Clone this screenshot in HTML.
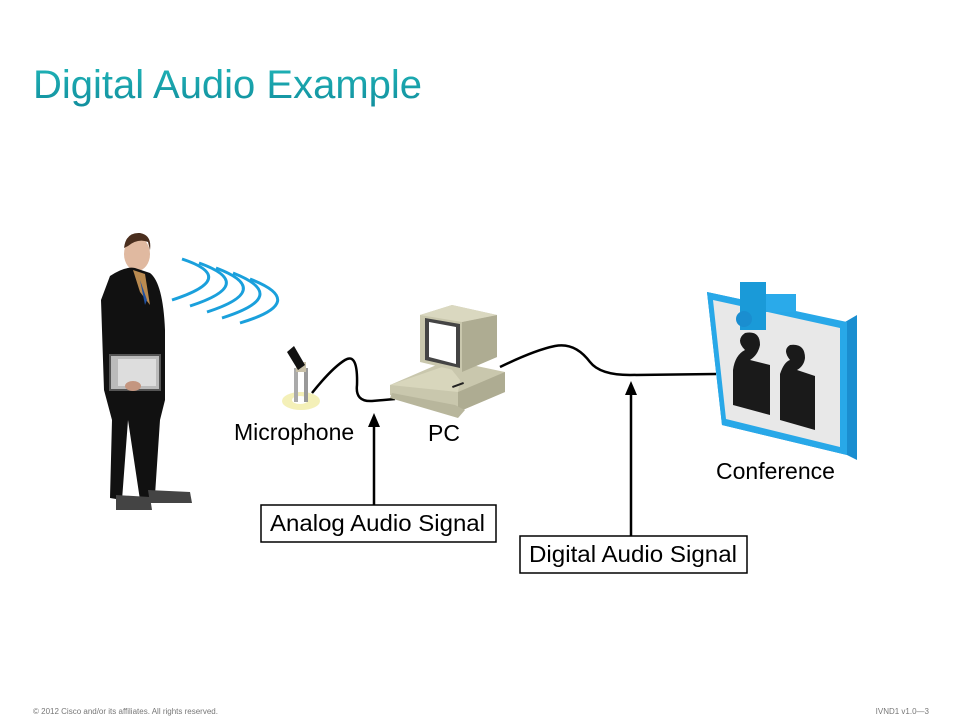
<!DOCTYPE html>
<html><head><style>
body{margin:0;width:960px;height:720px;background:#fff;overflow:hidden;font-family:"Liberation Sans",sans-serif}
</style></head><body>
<svg width="960" height="720" viewBox="0 0 960 720" xmlns="http://www.w3.org/2000/svg" font-family="Liberation Sans, sans-serif">
<defs><linearGradient id="tg" x1="0" y1="0" x2="0" y2="1"><stop offset="0" stop-color="#20b5b8"/><stop offset="1" stop-color="#128f9e"/></linearGradient></defs>
<text x="33" y="98" font-size="40" fill="url(#tg)" textLength="389" lengthAdjust="spacingAndGlyphs">Digital Audio Example</text>
<!-- person -->
<ellipse cx="137" cy="254" rx="13" ry="17" fill="#e0b9a0"/>
<path d="M124 248 Q126 232 140 233 Q152 235 150 250 L148 242 Q138 238 128 246 Z" fill="#4a2e1e"/>
<path d="M110 276 Q125 266 135 268 L150 273 Q163 283 165 330 L165 400 L160 420 L155 495 L170 498 L140 500 L128 420 L122 500 L110 498 L112 420 L104 390 L101 300 Z" fill="#111"/>
<path d="M133 270 L145 274 L150 305 L140 292 Z" fill="#b98a50"/>
<path d="M140 280 L147 300 L145 305 Z" fill="#2050a0"/>
<rect x="110" y="355" width="50" height="35" fill="#bbb" stroke="#555" stroke-width="2"/>
<rect x="118" y="359" width="38" height="27" fill="#ddd"/>
<ellipse cx="133" cy="386" rx="8" ry="5" fill="#c49680"/>
<path d="M116 495 L150 497 L152 510 L116 510 Z" fill="#444"/>
<path d="M148 490 L190 492 L192 503 L150 503 Z" fill="#444"/>
<!-- waves -->
<g fill="none" stroke="#1aa0dc" stroke-width="3">
<path d="M182 259 Q240 278 172 300"/>
<path d="M199 263 Q258 284 190 306"/>
<path d="M216 268 Q275 290 207 312"/>
<path d="M233 273 Q292 296 222 318"/>
<path d="M250 279 Q310 302 240 323"/>
</g>
<!-- mic -->
<ellipse cx="301" cy="401" rx="19" ry="9" fill="#f4f0b8"/>
<ellipse cx="300" cy="400" rx="8" ry="4" fill="#fff"/>
<rect x="294" y="368" width="4" height="34" fill="#aaa"/>
<rect x="304" y="368" width="4" height="34" fill="#999"/>
<rect x="296" y="362" width="10" height="10" fill="#c8c0a8"/>
<path d="M287 352 L294 346 L305 365 L298 370 Z" fill="#111"/>
<path d="M312 393 Q332 368 345 360 Q358 352 357 385 Q355 402 372 401 L395 399" fill="none" stroke="#000" stroke-width="2.5"/>
<!-- PC -->
<path d="M390 385 L448 360 L505 372 L505 392 L458 412 L390 395 Z" fill="#c9c7ad"/>
<path d="M458 392 L505 372 L505 392 L458 412 Z" fill="#aeac92"/>
<path d="M390 385 L448 365 L460 380 L458 392 Z" fill="#d8d6bc"/>
<path d="M392 393 L455 405 L465 410 L458 418 L390 398 Z" fill="#b8b69c"/>
<rect x="452" y="384" width="12" height="2" fill="#222" transform="rotate(-20 458 385)"/>
<path d="M420 315 L452 305 L497 315 L497 357 L462 372 L420 362 Z" fill="#c9c7ad"/>
<path d="M462 322 L497 315 L497 357 L462 372 Z" fill="#aeac92"/>
<path d="M420 315 L452 305 L497 315 L462 322 Z" fill="#dad8c0"/>
<path d="M425 318 L460 324 L460 368 L425 360 Z" fill="#444"/>
<path d="M429 322 L456 327 L456 364 L429 357 Z" fill="#fff"/>
<path d="M500 367 Q535 350 555 346 Q575 342 590 362 Q600 375 630 375 L716 374" fill="none" stroke="#000" stroke-width="2.5"/>
<!-- conference -->
<path d="M707 292 L845 322 L857 315 L857 460 L847 455 L722 425 Z" fill="#1a8ed0"/>
<path d="M707 292 L847 322 L847 455 L722 425 Z" fill="#28a8e8"/>
<path d="M713 300 L840 328 L840 447 L726 419 Z" fill="#e8e8e8"/>
<path d="M733 370 Q735 355 745 350 Q735 340 745 333 Q760 330 760 345 Q758 355 750 360 L770 365 L770 415 L733 405 Z" fill="#1a1a1a"/>
<path d="M780 374 Q784 362 790 360 Q782 350 790 345 Q805 343 805 358 Q804 366 797 370 L815 376 L815 430 L780 420 Z" fill="#1a1a1a"/>
<rect x="740" y="282" width="26" height="48" fill="#1a9ad8"/>
<rect x="766" y="294" width="30" height="18" fill="#2aaaea"/>
<circle cx="744" cy="319" r="8" fill="#1a8ed0"/>
<!-- labels -->
<text x="234" y="440" font-size="23" fill="#000">Microphone</text>
<text x="428" y="441" font-size="23" fill="#000">PC</text>
<text x="716" y="479" font-size="23" fill="#000">Conference</text>
<!-- arrows -->
<line x1="374" y1="506" x2="374" y2="425" stroke="#000" stroke-width="2.5"/>
<path d="M368 427 L374 413 L380 427 Z" fill="#000"/>
<line x1="631" y1="537" x2="631" y2="393" stroke="#000" stroke-width="2.5"/>
<path d="M625 395 L631 381 L637 395 Z" fill="#000"/>
<rect x="261" y="505" width="235" height="37" fill="#fff" stroke="#000" stroke-width="1.5"/>
<text x="270" y="531" font-size="23" fill="#000" textLength="215" lengthAdjust="spacingAndGlyphs">Analog Audio Signal</text>
<rect x="520" y="536" width="227" height="37" fill="#fff" stroke="#000" stroke-width="1.5"/>
<text x="529" y="562" font-size="23" fill="#000" textLength="208" lengthAdjust="spacingAndGlyphs">Digital Audio Signal</text>
<text x="33" y="714" font-size="8" fill="#777">© 2012 Cisco and/or its affiliates. All rights reserved.</text>
<text x="929" y="714" font-size="8" fill="#777" text-anchor="end">IVND1 v1.0—3</text>
</svg>
</body></html>
